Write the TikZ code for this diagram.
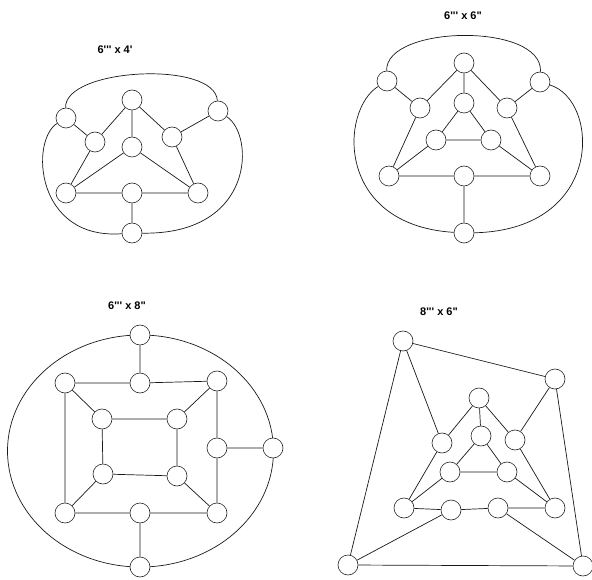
\documentclass[tikz,border=0pt]{standalone}
\usepackage{fontspec}
\newfontfamily\labfont{Liberation Sans}
\tikzset{
  v/.style={circle, draw=black!85, fill=white, minimum size=20pt, inner sep=0pt, line width=0.6pt},
  e/.style={line width=0.7pt, draw=black!90},
  lab/.style={font=\labfont\bfseries\fontsize{11}{13}\selectfont, inner sep=0pt}
}
\begin{document}
\begin{tikzpicture}[x=1pt,y=-1pt]
\useasboundingbox[fill=white] (0,0) rectangle (592,580);

% ---------- labels ----------
\node[lab] (l1) at (115,50) {6''' x 4'};
\node[lab] (l2) at (463,16) {6''' x 6"};
\node[lab] (l3) at (127,306) {6''' x 8"};
\node[lab] (l4) at (439,312) {8''' x 6"};

% ---------- graph 1 : 6''' x 4' ----------
\node[v] (aT)  at (132,100) {};
\node[v] (aL1) at (66,118) {};
\node[v] (aL2) at (95,142) {};
\node[v] (aR2) at (172,137) {};
\node[v] (aR1) at (218,111) {};
\node[v] (aC)  at (132,147) {};
\node[v] (aBL) at (66,193) {};
\node[v] (aBM) at (132,193) {};
\node[v] (aBR) at (198,193) {};
\node[v] (aB)  at (132,233) {};
\draw[e] (aT) -- (aL2) (aT) -- (aC) (aT) -- (aR2)
  (aL1) -- (aL2) (aR1) -- (aR2) (aL2) -- (aBL) (aR2) -- (aBR)
  (aC) -- (aBL) (aC) -- (aBR) (aBL) -- (aBM) (aBM) -- (aBR) (aBM) -- (aB);
\draw[e] (aL1) .. controls (64,68) and (215,60) .. (aR1);
\draw[e] (aL1) .. controls (30,140) and (35,240) .. (aB);
\draw[e] (aR1) .. controls (255,135) and (255,235) .. (aB);

% ---------- graph 2 : 6''' x 6" ----------
\node[v] (bT)  at (464,63) {};
\node[v] (bL1) at (387,81) {};
\node[v] (bR1) at (540,82) {};
\node[v] (bL2) at (420,108) {};
\node[v] (bC)  at (464,103) {};
\node[v] (bR2) at (507,108) {};
\node[v] (bIL) at (436,140) {};
\node[v] (bIR) at (491,140) {};
\node[v] (bBL) at (389,176) {};
\node[v] (bBM) at (464,176) {};
\node[v] (bBR) at (540,176) {};
\node[v] (bB)  at (464,233) {};
\draw[e] (bT) -- (bL2) (bT) -- (bC) (bT) -- (bR2)
  (bL1) -- (bL2) (bR1) -- (bR2) (bL2) -- (bBL) (bR2) -- (bBR)
  (bC) -- (bIL) (bC) -- (bIR) (bIL) -- (bIR) (bIL) -- (bBL) (bIR) -- (bBR)
  (bBL) -- (bBM) (bBM) -- (bBR) (bBM) -- (bB);
\draw[e] (bL1) .. controls (385,25) and (543,22) .. (bR1);
\draw[e] (bL1) .. controls (340,110) and (335,225) .. (bB);
\draw[e] (bR1) .. controls (600,100) and (605,230) .. (bB);

% ---------- graph 3 : 6''' x 8" ----------
\draw[e] (140.5,451) ellipse [x radius=133pt, y radius=116pt];
\node[v] (cT)   at (140,335) {};
\node[v] (cTL)  at (65,383) {};
\node[v] (cTM)  at (140,383) {};
\node[v] (cTR)  at (217,381) {};
\node[v] (cIUL) at (102,419) {};
\node[v] (cIUR) at (177,419) {};
\node[v] (cRM)  at (217,448) {};
\node[v] (cR)   at (273,448) {};
\node[v] (cILL) at (103,474) {};
\node[v] (cILR) at (177,476) {};
\node[v] (cBL)  at (65,513) {};
\node[v] (cBM)  at (140,513) {};
\node[v] (cBR)  at (217,513) {};
\node[v] (cB)   at (140,567) {};
\draw[e] (cT) -- (cTM) (cTL) -- (cTM) (cTM) -- (cTR)
  (cTL) -- (cBL) (cTL) -- (cIUL) (cTR) -- (cIUR) (cTR) -- (cRM)
  (cRM) -- (cR) (cRM) -- (cBR)
  (cIUL) -- (cIUR) (cIUL) -- (cILL) (cIUR) -- (cILR) (cILL) -- (cILR)
  (cILL) -- (cBL) (cILR) -- (cBR)
  (cBL) -- (cBM) (cBM) -- (cBR) (cBM) -- (cB);

% ---------- graph 4 : 8''' x 6" ----------
\node[v] (dTL)  at (403,341) {};
\node[v] (dTR)  at (555,379) {};
\node[v] (dT)   at (479,398) {};
\node[v] (dL2)  at (442,443) {};
\node[v] (dC)   at (481,436) {};
\node[v] (dR2)  at (515,440) {};
\node[v] (dIL)  at (450,472) {};
\node[v] (dIR)  at (507,472) {};
\node[v] (dBL)  at (404,508) {};
\node[v] (dBML) at (451,510) {};
\node[v] (dBMR) at (498,508) {};
\node[v] (dBR)  at (555,508) {};
\node[v] (dCL)  at (348,565) {};
\node[v] (dCR)  at (583,566) {};
\draw[e] (dTL) -- (dTR) (dTL) -- (dL2) (dTL) -- (dCL)
  (dTR) -- (dR2) (dTR) -- (dCR)
  (dT) -- (dL2) (dT) -- (dC) (dT) -- (dR2)
  (dL2) -- (dBL) (dR2) -- (dBR)
  (dC) -- (dIL) (dC) -- (dIR) (dIL) -- (dIR) (dIL) -- (dBL) (dIR) -- (dBR)
  (dBL) -- (dBML) (dBML) -- (dBMR) (dBMR) -- (dBR)
  (dBML) -- (dCL) (dBMR) -- (dCR) (dCL) -- (dCR);
\end{tikzpicture}
\end{document}
